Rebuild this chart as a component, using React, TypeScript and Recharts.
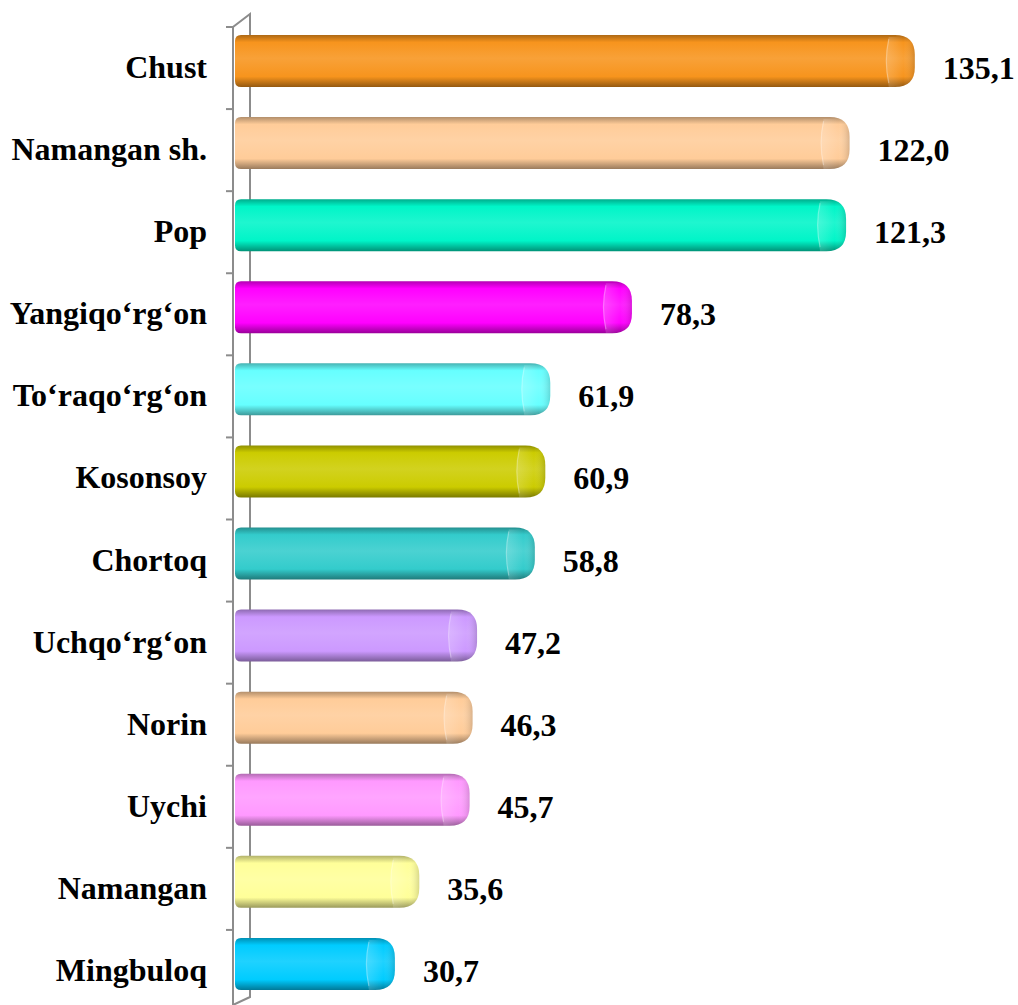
import React from 'react';
import { BarChart, Bar, XAxis, YAxis, LabelList } from 'recharts';

const districts = [
  'Chust',
  'Namangan sh.',
  'Pop',
  'Yangiqo‘rg‘on',
  'To‘raqo‘rg‘on',
  'Kosonsoy',
  'Chortoq',
  'Uchqo‘rg‘on',
  'Norin',
  'Uychi',
  'Namangan',
  'Mingbuloq',
];
const values = [135.1, 122.0, 121.3, 78.3, 61.9, 60.9, 58.8, 47.2, 46.3, 45.7, 35.6, 30.7];
const barColors = [
  '#F7941D',
  '#FFCC99',
  '#00F5C8',
  '#FF00FF',
  '#66FFFF',
  '#CCCC00',
  '#33CCCC',
  '#CC99FF',
  '#FFCC99',
  '#FF99FF',
  '#FFFF99',
  '#00CCFF',
];

const data = districts.map((name, i) => ({ name, value: values[i] }));

// layout
const W = 1018;
const H = 1005;
const M = { top: 20, right: 29, bottom: 0, left: 0 };
const Y_AXIS_W = 242;
const BAND = (H - M.top - M.bottom) / districts.length;
const FONT = 'Liberation Serif, Times New Roman, serif';
const textStyle = { fontFamily: FONT, fontWeight: 700, fontSize: 32 };

const hexToRgb = (hex: string) => {
  const n = parseInt(hex.slice(1), 16);
  return [(n >> 16) & 255, (n >> 8) & 255, n & 255];
};
const mix = (hex: string, target: number, t: number) => {
  const [r, g, b] = hexToRgb(hex);
  const f = (c: number) => Math.round(c + (target - c) * t);
  return `rgb(${f(r)},${f(g)},${f(b)})`;
};

// bar drawn like a rounded 3D rod
const Bar3D = (props: any) => {
  const { x, y, width, height, index } = props;
  const color = barColors[index];
  const id = `rod${index}`;
  const left = x - 7;
  const right = x + width;
  const r = height * 0.38;
  const rl = 6;
  const b = y + height;
  const body = `M${left + rl},${y} H${right - r} Q${right},${y} ${right},${y + r} V${b - r} Q${right},${b} ${right - r},${b} H${left + rl} Q${left},${b} ${left},${b - rl} V${y + rl} Q${left},${y} ${left + rl},${y} Z`;
  const cx = right - 26;
  const cap = `M${cx},${y + 4} Q${cx - 5},${y + height / 2} ${cx},${b - 4}`;
  return (
    <g>
      <defs>
        <linearGradient id={id} x1="0" y1="0" x2="0" y2="1">
          <stop offset="0" stopColor={mix(color, 0, 0.3)} />
          <stop offset="0.14" stopColor={color} />
          <stop offset="0.45" stopColor={mix(color, 255, 0.12)} />
          <stop offset="0.8" stopColor={color} />
          <stop offset="1" stopColor={mix(color, 0, 0.4)} />
        </linearGradient>
        <linearGradient id={`${id}c`} x1="0" y1="0" x2="1" y2="0">
          <stop offset="0" stopColor="#fff" stopOpacity={0.18} />
          <stop offset="0.6" stopColor="#fff" stopOpacity={0} />
          <stop offset="1" stopColor="#000" stopOpacity={0.15} />
        </linearGradient>
      </defs>
      <path d={body} fill={`url(#${id})`} />
      <path
        d={`M${cx},${y + 2} H${right - r} Q${right},${y} ${right},${y + r} V${b - r} Q${right},${b} ${right - r},${b} H${cx} Q${cx - 5},${y + height / 2} ${cx},${y + 2} Z`}
        fill={`url(#${id}c)`}
      />
      <path d={cap} fill="none" stroke="#fff" strokeOpacity={0.3} strokeWidth={1.2} />
    </g>
  );
};

const CategoryTick = (props: any) => {
  const { x, y, payload } = props;
  return (
    <g>
      <text x={x - 27} y={y + 17} textAnchor="end" style={textStyle} fill="#000">
        {payload.value}
      </text>
      <line x1={x - 8} x2={x - 1} y1={y - BAND / 2 + 7} y2={y - BAND / 2 + 7} stroke="#8c8c8c" strokeWidth={2} />
    </g>
  );
};

const ValueLabel = (props: any) => {
  const { x, y, width, height, value } = props;
  return (
    <text x={x + width + 28} y={y + height / 2 + 18} textAnchor="start" style={textStyle} fill="#000">
      {Number(value).toFixed(1).replace('.', ',')}
    </text>
  );
};

export default function App() {
  const zeroX = M.left + Y_AXIS_W;
  const front = zeroX - 9;
  const back = zeroX + 8;
  const top = M.top + 7;
  return (
    <div style={{ position: 'absolute', left: 0, top: 0, width: W, height: H, background: '#fff' }}>
      <svg width={W} height={H} style={{ position: 'absolute', left: 0, top: 0 }}>
        <g stroke="#8c8c8c" strokeWidth={2} fill="none">
          <polyline points={`${front},${H} ${front},${top} ${back},${top - 13} ${back},${H - 8} ${front},${H}`} />
        </g>
      </svg>
      <div style={{ position: 'absolute', left: 0, top: 0 }}>
        <BarChart width={W} height={H} data={data} layout="vertical" margin={M}>
          <XAxis type="number" domain={[0, 150]} hide />
          <YAxis
            type="category"
            dataKey="name"
            width={Y_AXIS_W}
            axisLine={false}
            tickLine={false}
            tick={<CategoryTick />}
            interval={0}
          />
          <Bar dataKey="value" barSize={52} shape={<Bar3D />} isAnimationActive={false}>
            <LabelList dataKey="value" content={<ValueLabel />} />
          </Bar>
        </BarChart>
      </div>
    </div>
  );
}
